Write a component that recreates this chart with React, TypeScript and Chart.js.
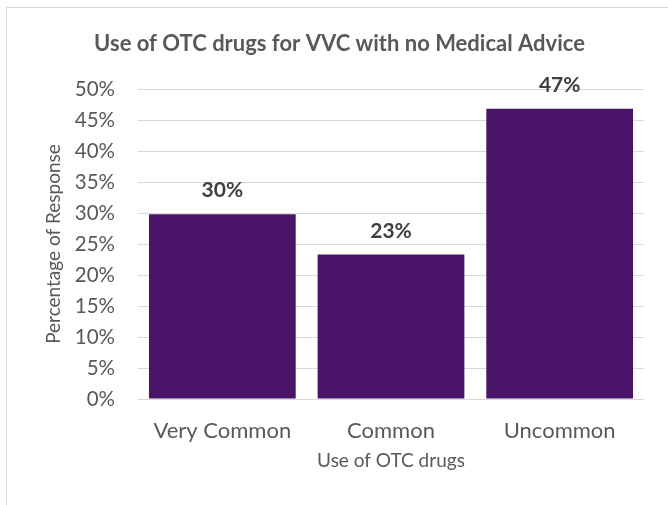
import React, { useEffect, useRef } from "react";
import { Chart, registerables } from "chart.js";

Chart.register(...registerables);

const TITLE = "Use of OTC drugs for VVC with no Medical Advice";
const categories = ["Very Common", "Common", "Uncommon"];
const values = [29.8, 23.3, 46.8];
const valueLabels = ["30%", "23%", "47%"];
const yTitle = "Percentage of Response";
const xTitle = "Use of OTC drugs";

const FONT = "Lato, 'Open Sans', 'DejaVu Sans', sans-serif";
const TEXT = "#595959";
const GRID = "#d9d9d9";
const BAR = "#4a1469";

const titlePlugin = {
  id: "customTitle",
  afterDraw(chart: any) {
    const ctx = chart.ctx;
    ctx.save();
    ctx.font = `bold 22px ${FONT}`;
    ctx.fillStyle = TEXT;
    ctx.textAlign = "center";
    ctx.textBaseline = "alphabetic";
    ctx.fillText(TITLE, 339.5, 51);
    ctx.restore();
  },
};

const labelPlugin = {
  id: "barLabels",
  afterDatasetsDraw(chart: any) {
    const ctx = chart.ctx;
    const meta = chart.getDatasetMeta(0);
    ctx.save();
    ctx.font = `bold 21px ${FONT}`;
    ctx.fillStyle = "#404040";
    ctx.textAlign = "center";
    ctx.textBaseline = "alphabetic";
    meta.data.forEach((bar: any, i: number) => {
      ctx.fillText(valueLabels[i], bar.x, bar.y - 17);
    });
    ctx.restore();
  },
};

export default function App() {
  const ref = useRef<HTMLCanvasElement | null>(null);
  useEffect(() => {
    if (!ref.current) return;
    const chart = new Chart(ref.current, {
      type: "bar",
      data: {
        labels: categories,
        datasets: [
          {
            data: values,
            backgroundColor: BAR,
            borderWidth: 0,
            barPercentage: 0.87,
            categoryPercentage: 1,
          },
        ],
      },
      options: {
        animation: false,
        responsive: true,
        maintainAspectRatio: false,
        layout: { padding: { left: 40, right: 24, top: 89, bottom: 20 } },
        plugins: {
          legend: { display: false },
          tooltip: { enabled: false },
          title: { display: false },
        },
        scales: {
          x: {
            grid: { display: false },
            border: { display: false },
            ticks: {
              color: TEXT,
              font: { family: FONT, size: 22 },
              padding: 11,
            },
            title: {
              display: true,
              text: xTitle,
              color: TEXT,
              font: { family: FONT, size: 19 },
              padding: { top: 0, bottom: 13 },
            },
            afterFit(scale: any) {
              scale.height = 86;
            },
          },
          y: {
            min: 0,
            max: 50,
            grid: { color: GRID, lineWidth: 1, drawTicks: false },
            border: { display: false },
            ticks: {
              stepSize: 5,
              color: TEXT,
              font: { family: FONT, size: 20.5 },
              padding: 23,
              callback: (v: any) => v + "%",
            },
            title: {
              display: true,
              text: yTitle,
              color: TEXT,
              font: { family: FONT, size: 19 },
              padding: { top: 2, bottom: 0 },
            },
            afterFit(scale: any) {
              scale.width = 98;
            },
          },
        },
      },
      plugins: [titlePlugin, labelPlugin],
    });
    return () => chart.destroy();
  }, []);

  return (
    <div style={{ position: "fixed", left: 0, top: 0, width: 668, height: 505, background: "#fff" }}>
      <div
        style={{
          position: "absolute",
          left: 6,
          top: 7,
          width: 700,
          height: 600,
          borderLeft: "1px solid #d9d9d9",
          borderTop: "1px solid #d9d9d9",
        }}
      />
      <canvas ref={ref} style={{ position: "absolute", left: 0, top: 0 }} />
    </div>
  );
}
